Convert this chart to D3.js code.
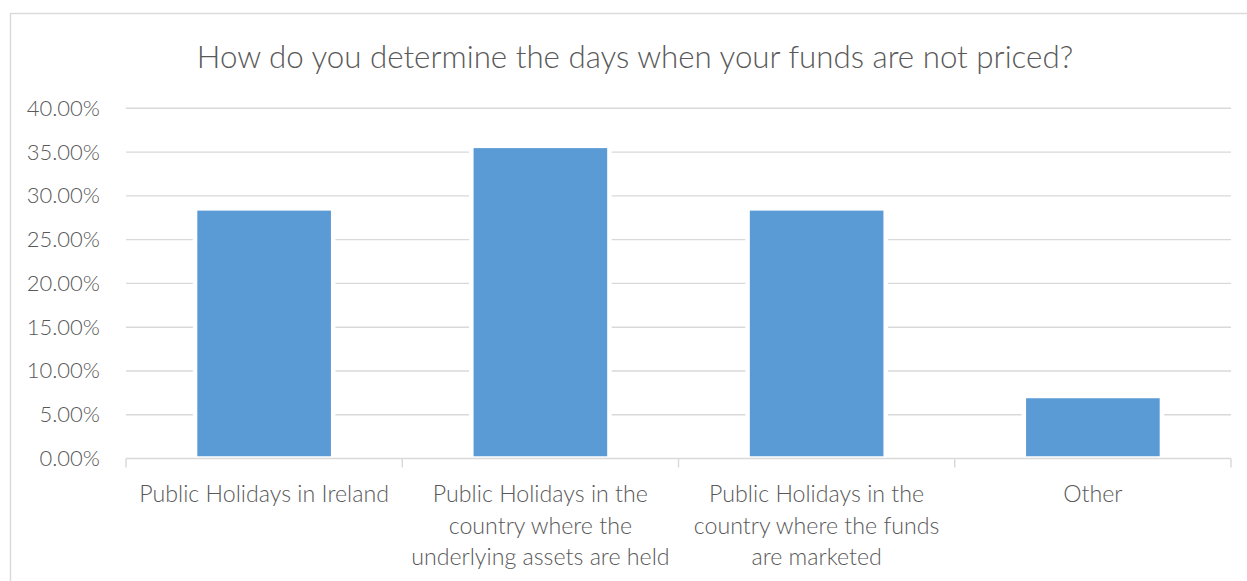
<!DOCTYPE html>
<html>
<head>
<meta charset="utf-8">
<script src="https://cdn.jsdelivr.net/npm/d3@7"></script>
<style>
  html, body { margin: 0; padding: 0; background: #fff; }
  svg { display: block; font-family: "Lato", "Open Sans", sans-serif; }
</style>
</head>
<body>
<svg id="chart" width="1247" height="581"></svg>
<script>
// Survey answers and their share of respondents
const categories = [
  "Public Holidays in Ireland",
  "Public Holidays in the country where the underlying assets are held",
  "Public Holidays in the country where the funds are marketed",
  "Other"
];
const shares = [0.2857, 0.3571, 0.2857, 0.0714];
const yTicks = [0, 0.05, 0.10, 0.15, 0.20, 0.25, 0.30, 0.35, 0.40];
const title = "How do you determine the days when your funds are not priced?";

const svg = d3.select("#chart");
const W = 1247, H = 581;
const plot = { left: 126, right: 1231, top: 108.3, bottom: 458.5 };

const textColor = "#595959";
const gridColor = "#d9d9d9";
const barColor = "#5b9bd5";
const fontWeight = 300;

// outer chart frame
svg.append("rect")
  .attr("x", 10.5).attr("y", 13.5)
  .attr("width", W + 20).attr("height", H + 20)
  .attr("fill", "none")
  .attr("stroke", gridColor)
  .attr("stroke-width", 1.4);

const x = d3.scaleBand()
  .domain(categories)
  .range([plot.left, plot.right])
  .paddingInner(0.5)
  .paddingOuter(0.25);

const y = d3.scaleLinear()
  .domain([0, 0.4])
  .range([plot.bottom, plot.top]);

// title
svg.append("text")
  .attr("x", 635).attr("y", 68)
  .attr("text-anchor", "middle")
  .attr("fill", textColor)
  .style("font-size", "31.3px")
  .style("font-weight", fontWeight)
  .text(title);

// horizontal gridlines
svg.append("g")
  .selectAll("line")
  .data(yTicks.filter(d => d > 0))
  .join("line")
  .attr("x1", plot.left).attr("x2", plot.right)
  .attr("y1", d => y(d)).attr("y2", d => y(d))
  .attr("stroke", gridColor)
  .attr("stroke-width", 1.4);

// y axis labels
const yAxis = d3.axisLeft(y)
  .tickValues(yTicks)
  .tickFormat(d3.format(".2%"))
  .tickSize(0)
  .tickPadding(0);
const gy = svg.append("g")
  .attr("transform", `translate(100,0)`)
  .call(yAxis);
gy.select(".domain").remove();
gy.selectAll("text")
  .attr("fill", textColor)
  .style("font-size", "22px")
  .style("font-family", '"Lato", "Open Sans", sans-serif')
  .style("font-weight", fontWeight);

// bars with a white outline
svg.append("g")
  .selectAll("rect")
  .data(categories.map((c, i) => ({ c, v: shares[i] })))
  .join("rect")
  .attr("x", d => x(d.c))
  .attr("width", x.bandwidth())
  .attr("y", d => y(d.v))
  .attr("height", d => y(0) - y(d.v))
  .attr("fill", barColor)
  .attr("stroke", "#fff")
  .attr("stroke-width", 4.5);

// category axis line and separators
const step = x.step();
const boundaries = d3.range(categories.length + 1).map(i => plot.left + i * step);
svg.append("line")
  .attr("x1", plot.left).attr("x2", plot.right)
  .attr("y1", plot.bottom).attr("y2", plot.bottom)
  .attr("stroke", gridColor).attr("stroke-width", 1.4);
svg.append("g")
  .selectAll("line")
  .data(boundaries)
  .join("line")
  .attr("x1", d => d).attr("x2", d => d)
  .attr("y1", plot.bottom).attr("y2", plot.bottom + 9)
  .attr("stroke", gridColor).attr("stroke-width", 1.4);

// wrapped category labels
const labelSize = 23.2;
const measure = svg.append("text")
  .style("font-size", labelSize + "px")
  .style("font-weight", fontWeight)
  .attr("visibility", "hidden");
function wrap(str, maxW) {
  const words = str.split(" ");
  const lines = [];
  let cur = "";
  for (const w of words) {
    const t = cur ? cur + " " + w : w;
    measure.text(t);
    if (measure.node().getComputedTextLength() > maxW && cur) {
      lines.push(cur);
      cur = w;
    } else {
      cur = t;
    }
  }
  if (cur) lines.push(cur);
  return lines;
}
const labels = svg.append("g");
categories.forEach(c => {
  const lines = wrap(c, 266);
  const t = labels.append("text")
    .attr("text-anchor", "middle")
    .attr("fill", textColor)
    .style("font-size", labelSize + "px")
    .style("font-weight", fontWeight);
  lines.forEach((ln, i) => {
    t.append("tspan")
      .attr("x", x(c) + x.bandwidth() / 2)
      .attr("y", 502 + i * 31.5)
      .text(ln);
  });
});
measure.remove();
</script>
</body>
</html>
